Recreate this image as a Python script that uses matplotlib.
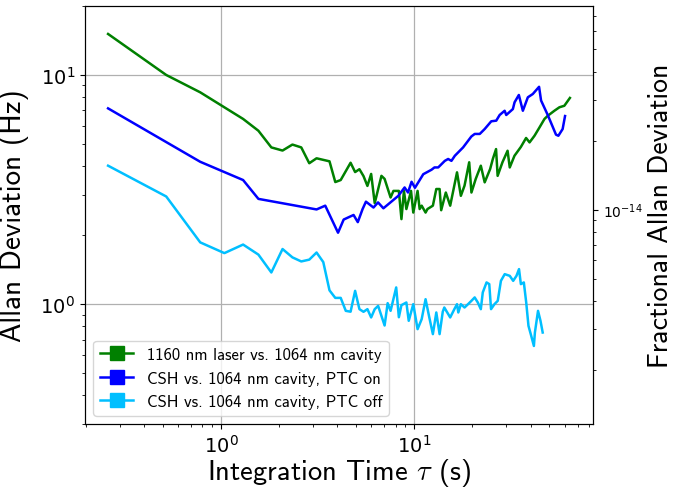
import matplotlib
matplotlib.use("Agg")
import matplotlib.pyplot as plt
from matplotlib.lines import Line2D
import numpy as np

plt.rcParams['mathtext.fontset'] = 'cm'
plt.rcParams['axes.unicode_minus'] = False

# 1160 nm laser vs. 1064 nm cavity
tau_green = [0.26, 0.52, 0.78, 1.30, 1.56, 1.82, 2.08, 2.34, 2.60, 2.86, 3.12, 3.64, 3.90, 4.16,
             4.68, 4.94, 5.20, 5.46, 5.72, 5.98, 6.24, 6.76, 7.02, 7.54, 7.80, 8.32, 8.58, 8.84,
             9.10, 9.62, 9.88, 10.4, 10.66, 10.92, 11.44, 11.7, 12.48, 13.0, 13.52, 13.78, 14.56,
             15.34, 16.64, 17.42, 18.2, 19.24, 19.76, 20.8, 22.1, 23.14, 24.7, 25.5, 26.5, 27.0,
             28.6, 30.4, 31.2, 33.0, 35.6, 37.9, 39.5, 41.9, 44.5, 47.2, 49.1, 53.1, 56.4, 59.8, 63.9]
adev_green = [15.1, 10.0, 8.40, 6.43, 5.71, 4.83, 4.68, 4.97, 4.83, 4.12, 4.33, 4.20, 3.41, 3.48,
              4.14, 3.77, 3.88, 3.62, 3.28, 3.70, 2.76, 3.63, 3.52, 2.92, 3.12, 3.12, 2.35, 3.12,
              2.60, 3.12, 2.51, 3.12, 2.60, 2.69, 2.51, 2.60, 2.69, 3.18, 3.18, 2.57, 3.07,
              2.69, 3.76, 2.97, 3.29, 4.16, 3.07, 3.52, 4.02, 3.40, 3.89, 4.30, 4.75, 3.63,
              4.16, 4.67, 3.95, 4.44, 4.85, 5.31, 5.08, 5.43, 5.91, 6.43, 6.64, 6.98, 7.23, 7.34, 7.94]

# CSH vs. 1064 nm cavity, PTC on
tau_blue = [0.26, 0.78, 1.30, 1.56, 3.12, 3.46, 4.03, 4.31, 4.85, 5.10, 5.40, 5.62, 6.15, 6.49,
            6.92, 8.27, 8.91, 9.28, 9.68, 10.08, 11.13, 12.28, 12.72, 13.30, 14.39, 14.97, 15.57,
            16.21, 17.89, 19.74, 20.55, 21.82, 23.14, 25.03, 26.56, 27.66, 29.35, 29.92, 32.38,
            33.04, 34.77, 36.47, 38.70, 41.06, 44.25, 45.31, 49.07, 54.14, 55.7, 58.6, 60.3]
adev_blue = [7.15, 4.18, 3.48, 2.88, 2.59, 2.69, 2.05, 2.34, 2.45, 2.28, 2.60, 2.80, 2.64, 2.78,
             2.62, 2.97, 3.23, 3.07, 3.42, 3.22, 3.69, 3.86, 3.95, 3.95, 4.22, 4.30, 4.22,
             4.44, 4.83, 5.39, 5.53, 5.53, 5.81, 6.28, 6.32, 6.69, 6.98, 6.69, 7.10,
             7.60, 8.18, 6.98, 7.99, 8.26, 8.88, 7.74, 6.69, 5.49, 5.43, 5.81, 6.62]

# CSH vs. 1064 nm cavity, PTC off
tau_cyan = [0.26, 0.52, 0.78, 1.04, 1.30, 1.56, 1.82, 2.08, 2.34, 2.60, 2.86, 3.12, 3.38, 3.64,
            3.90, 4.16, 4.42, 4.68, 4.94, 5.20, 5.46, 5.72, 5.98, 6.24, 6.50, 7.02, 7.28, 7.54,
            8.06, 8.32, 8.58, 9.10, 9.36, 9.88, 10.4, 10.92, 11.44, 11.96, 12.48, 13.0, 13.52,
            14.04, 14.3, 15.34, 16.12, 16.64, 16.9, 17.42, 18.2, 18.98, 19.76, 20.54, 21.32,
            22.1, 22.62, 23.66, 24.44, 24.96, 26.0, 27.04, 28.08, 29.38, 31.2, 32.5, 33.8, 34.84,
            35.62, 36.9, 37.96, 39.0, 40.3, 41.6, 42.1, 43.7, 45.0, 46.2]
adev_cyan = [4.02, 2.95, 1.86, 1.67, 1.82, 1.645, 1.375, 1.74, 1.60, 1.536, 1.564, 1.68, 1.526, 1.149,
             1.065, 1.065, 0.935, 0.927, 1.143, 0.951, 0.926, 0.951, 0.875, 0.951, 0.983, 0.807, 1.01, 0.935,
             1.183, 0.877, 0.990, 1.017, 0.846, 1.0, 0.778, 0.860, 1.051, 0.875, 0.740, 0.920, 0.740,
             0.927, 0.967, 0.875, 0.951, 1.0, 0.920, 1.0, 0.967, 1.0, 1.034, 1.070, 1.017,
             0.951, 1.125, 1.244, 1.223, 0.951, 1.0, 1.034, 1.264, 1.352, 1.329, 1.264, 1.329, 1.422,
             1.223, 1.244, 1.017, 0.804, 0.727, 0.657, 0.752, 0.935, 0.846, 0.752]

labels = ["1160 nm laser vs. 1064 nm cavity",
          "CSH vs. 1064 nm cavity, PTC on",
          "CSH vs. 1064 nm cavity, PTC off"]
colors = ["green", "blue", "deepskyblue"]

nu_laser = 2.585e14  # Hz, 1160 nm optical frequency
ylim = (0.3, 20)

fig = plt.figure(figsize=(6.82, 4.89), dpi=100)
ax = fig.add_axes([0.1246, 0.1309, 0.7449, 0.8548])

for t, a, c in zip([tau_green, tau_blue, tau_cyan], [adev_green, adev_blue, adev_cyan], colors):
    ax.plot(t, a, color=c, lw=1.8)

ax.set_xscale('log')
ax.set_yscale('log')
ax.set_ylim(*ylim)
ax.grid(True, which='major', color='#b0b0b0', lw=0.9)
ax.tick_params(axis='both', which='major', labelsize=14)

sans = 'cmss10'
ax.set_xlabel(r"Integration Time $\tau$ (s)", fontsize=20.5, family=sans, labelpad=0)
ax.set_ylabel("Allan Deviation (Hz)", fontsize=21, family=sans, labelpad=8)

ax2 = ax.twinx()
ax2.set_yscale('log')
ax2.set_ylim(ylim[0] / nu_laser, ylim[1] / nu_laser)
ax2.tick_params(axis='y', which='major', labelsize=10)
ax2.set_ylabel("Fractional Allan Deviation", fontsize=20, family=sans, labelpad=4)

handles = [Line2D([0], [0], color=c, marker='s', markersize=10, lw=1.8) for c in colors]
leg = ax.legend(handles, labels, loc='lower left', prop={'family': sans, 'size': 12},
                fancybox=True, framealpha=0.8)

fig.savefig("out.png", dpi=100)
